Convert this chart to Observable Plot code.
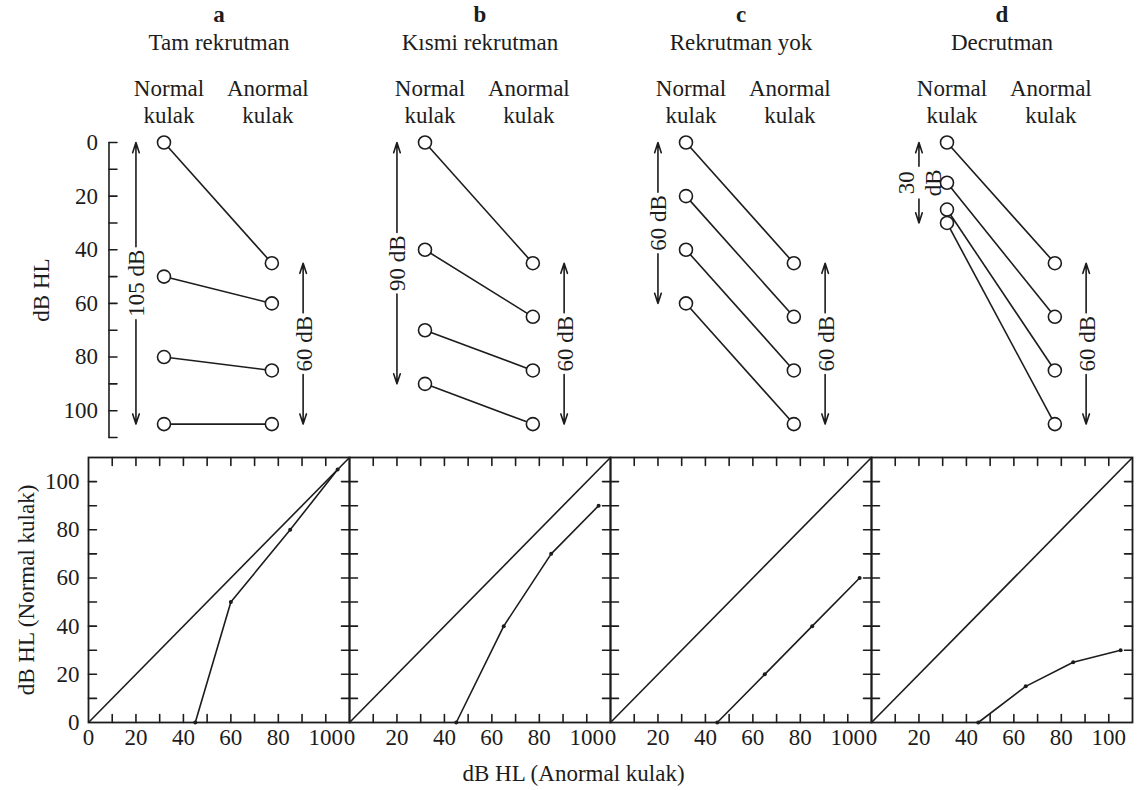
<!DOCTYPE html>
<html>
<head>
<meta charset="utf-8">
<script src="https://cdn.jsdelivr.net/npm/d3@7"></script>
<script src="https://cdn.jsdelivr.net/npm/@observablehq/plot@0.6"></script>
<style>
  body { margin: 0; background: #fff; }
  #fig { position: relative; width: 1139px; height: 790px; background: #fff; }
  #fig > svg { position: absolute; left: 0; overflow: visible; }
</style>
</head>
<body>
<div id="fig"></div>
<script>
// Panels: recruitment types
const panels = ["a", "b", "c", "d"];
const panelTitles = ["Tam rekrutman", "Kısmi rekrutman", "Rekrutman yok", "Decrutman"];
const earLabels = ["Normal\nkulak", "Anormal\nkulak"];

// Equal-loudness levels (dB HL), one row per panel
const normalLevels = [
  [0, 50, 80, 105],
  [0, 40, 70, 90],
  [0, 20, 40, 60],
  [0, 15, 25, 30]
];
const abnormalLevels = [
  [45, 60, 85, 105],
  [45, 65, 85, 105],
  [45, 65, 85, 105],
  [45, 65, 85, 105]
];

// Tick values
const ladderTicks = [0, 10, 20, 30, 40, 50, 60, 70, 80, 90, 100, 110];
const ladderTickLabels = [0, 20, 40, 60, 80, 100];
const gridTicks = [10, 20, 30, 40, 50, 60, 70, 80, 90, 100];
const axisTickLabels = [0, 20, 40, 60, 80, 100];

const LEVEL_MAX = 110;
const INK = "#1c1c1c";
const FONT = "Liberation Serif";
const FS = 23;
const W = 1139, ML = 87, MR = 6;
const FACET_W = (W - ML - MR) / panels.length;
const TICK_PX = 8;

// ladder column positions (x units inside each panel)
const NORMAL_X = 0, ABNORMAL_X = 1;
const LADDER_X = [-0.7, 1.72];
const AXIS_X = -0.51, LEFT_ARROW_X = -0.26, RIGHT_ARROW_X = 1.29;

const pairs = panels.flatMap((p, i) =>
  normalLevels[i].map((n, j) => ({panel: p, normal: n, abnormal: abnormalLevels[i][j]}))
);

// text width helper, used to open a gap in the range arrows for their labels
const ctx = document.createElement("canvas").getContext("2d");
ctx.font = `${FS}px "${FONT}"`;
const textExtent = (s) => d3.max(s.split("\n"), (line) => ctx.measureText(line).width);

const spans = panels.flatMap((p, i) => [
  {panel: p, x: LEFT_ARROW_X, lo: d3.min(normalLevels[i]), hi: d3.max(normalLevels[i])},
  {panel: p, x: RIGHT_ARROW_X, lo: d3.min(abnormalLevels[i]), hi: d3.max(abnormalLevels[i])}
]).map((s) => {
  const range = s.hi - s.lo;
  const label = range < 40 ? `${range}\ndB` : `${range} dB`;
  return {...s, mid: (s.lo + s.hi) / 2, label, gap: textExtent(label) / 2 + 3};
});

const stroke = {stroke: INK, strokeWidth: 1.6};
const arrowStyle = {...stroke, headLength: 10, headAngle: 36};
// plain straight segments (axis lines and ticks), drawn as head-less arrows
const segment = {fx: "panel", x1: "x1", x2: "x2", y1: "y1", y2: "y2", headLength: 0, ...stroke};

// ---------- ladder diagrams (top row) ----------
const ladderTickLen = TICK_PX * (LADDER_X[1] - LADDER_X[0]) / FACET_W;
const ladderAxis = [
  {panel: "a", x1: AXIS_X, x2: AXIS_X, y1: 0, y2: LEVEL_MAX},
  ...ladderTicks.map((t) => ({panel: "a", x1: AXIS_X, x2: AXIS_X + ladderTickLen, y1: t, y2: t}))
];

const ladder = Plot.plot({
  width: W,
  height: 445,
  marginLeft: ML,
  marginRight: MR,
  marginTop: 142,
  marginBottom: 8,
  fx: {domain: panels, padding: 0, axis: null},
  x: {domain: LADDER_X, axis: null},
  y: {domain: [0, LEVEL_MAX], reverse: true, axis: null},
  style: {fontFamily: FONT, fontSize: `${FS}px`, color: INK, background: "transparent", overflow: "visible"},
  marks: [
    // y axis labels on the first panel
    Plot.text(ladderTickLabels, {fx: () => "a", x: AXIS_X, y: (d) => d, dx: -11, textAnchor: "end", fill: INK}),
    Plot.text(["dB HL"], {fx: () => "a", frameAnchor: "left", textAnchor: "middle", dx: -47, rotate: -90, fill: INK}),

    // panel letters and titles
    Plot.text(panels, {fx: (d) => d, frameAnchor: "top", text: (d) => d, dy: -137, fontWeight: "bold", fill: INK}),
    Plot.text(panels, {fx: (d) => d, frameAnchor: "top", text: (d, i) => panelTitles[i], dy: -109, fill: INK}),

    // column headers
    Plot.text(panels, {fx: (d) => d, x: NORMAL_X, frameAnchor: "top", text: () => earLabels[0], dx: 5, dy: -66, lineHeight: 1.17, fill: INK}),
    Plot.text(panels, {fx: (d) => d, x: ABNORMAL_X, frameAnchor: "top", text: () => earLabels[1], dx: -4, dy: -66, lineHeight: 1.17, fill: INK}),

    // range arrows with their labels
    ...spans.flatMap((s) => [
      Plot.arrow([s], {fx: "panel", x1: "x", x2: "x", y1: "mid", y2: "lo", insetStart: s.gap, ...arrowStyle}),
      Plot.arrow([s], {fx: "panel", x1: "x", x2: "x", y1: "mid", y2: "hi", insetStart: s.gap, ...arrowStyle})
    ]),
    Plot.text(spans, {fx: "panel", x: "x", y: "mid", text: "label", rotate: -90, lineHeight: 1.15, fill: INK}),

    // equal-loudness links between the ears
    Plot.link(pairs, {fx: "panel", x1: NORMAL_X, y1: "normal", x2: ABNORMAL_X, y2: "abnormal", ...stroke}),
    Plot.dot(pairs, {fx: "panel", x: NORMAL_X, y: "normal", r: 6.5, fill: "white", ...stroke}),
    Plot.dot(pairs, {fx: "panel", x: ABNORMAL_X, y: "abnormal", r: 6.5, fill: "white", ...stroke}),

    // y axis line with inward ticks
    Plot.arrow(ladderAxis, segment)
  ]
});
ladder.style.top = "0px";

// ---------- loudness growth functions (bottom row) ----------
const GROWTH_H = 345, GROWTH_MT = 12, GROWTH_MB = 68;
const tickLenX = TICK_PX * LEVEL_MAX / FACET_W;
const tickLenY = TICK_PX * LEVEL_MAX / (GROWTH_H - GROWTH_MT - GROWTH_MB);

// inward ticks on all four sides of every panel
const growthTicks = panels.flatMap((p) => gridTicks.flatMap((t) => [
  {panel: p, x1: t, x2: t, y1: 0, y2: tickLenY},
  {panel: p, x1: t, x2: t, y1: LEVEL_MAX, y2: LEVEL_MAX - tickLenY},
  {panel: p, x1: 0, x2: tickLenX, y1: t, y2: t},
  {panel: p, x1: LEVEL_MAX, x2: LEVEL_MAX - tickLenX, y1: t, y2: t}
]));

const growth = Plot.plot({
  width: W,
  height: GROWTH_H,
  marginLeft: ML,
  marginRight: MR,
  marginTop: GROWTH_MT,
  marginBottom: GROWTH_MB,
  fx: {domain: panels, padding: 0, axis: null},
  x: {domain: [0, LEVEL_MAX], axis: null},
  y: {domain: [0, LEVEL_MAX], axis: null},
  style: {fontFamily: FONT, fontSize: `${FS}px`, color: INK, background: "transparent", overflow: "visible"},
  marks: [
    Plot.frame({stroke: INK, strokeWidth: 1.8}),

    // equal-loudness diagonal
    Plot.link([LEVEL_MAX], {x1: 0, y1: 0, x2: (d) => d, y2: (d) => d, ...stroke}),

    // loudness growth of the abnormal ear
    Plot.line(pairs, {fx: "panel", x: "abnormal", y: "normal", z: "panel", ...stroke}),
    Plot.dot(pairs, {fx: "panel", x: "abnormal", y: "normal", r: 2, fill: INK}),

    Plot.axisX({ticks: axisTickLabels, tickSize: 0, tickPadding: 6, label: null, fill: INK}),
    Plot.axisY({ticks: axisTickLabels, tickSize: 0, tickPadding: 9, label: null, fill: INK}),

    Plot.text(["dB HL (Normal kulak)"], {fx: () => "a", frameAnchor: "left", textAnchor: "middle", lineAnchor: "middle", dx: -62, rotate: -90, fill: INK}),
    Plot.text(["dB HL (Anormal kulak)"], {fx: () => "b", frameAnchor: "bottom-right", textAnchor: "middle", lineAnchor: "middle", dx: -37, dy: 51, fill: INK}),

    // inward ticks
    Plot.arrow(growthTicks, segment)
  ]
});
growth.style.top = "445px";

document.getElementById("fig").append(ladder, growth);
</script>
</body>
</html>
